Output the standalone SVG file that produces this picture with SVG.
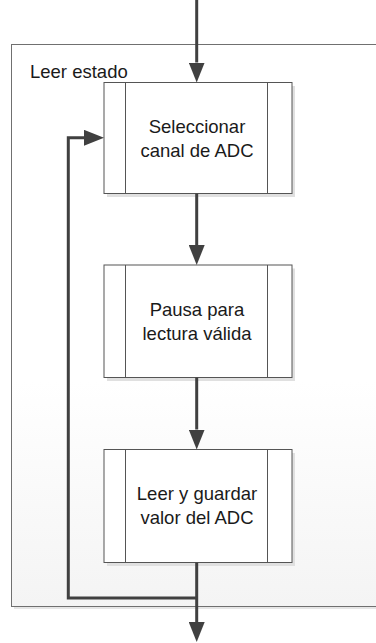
<svg xmlns="http://www.w3.org/2000/svg" width="376" height="643" viewBox="0 0 376 643">
<style>
.box{fill:#ffffff;stroke:#555555;stroke-width:1}
.shadow{fill:#e0e0e0}
.div{stroke:#555555;stroke-width:1}
.conn{fill:none;stroke:#404040;stroke-width:3}
.t{font-family:"Liberation Sans",Arial,sans-serif;font-size:18.5px;fill:#1a1a1a}
.c{text-anchor:middle}
</style>
<defs>
<linearGradient id="cg" x1="0" y1="0" x2="0" y2="1">
<stop offset="0" stop-color="#ffffff"/>
<stop offset="0.6" stop-color="#ffffff"/>
<stop offset="1" stop-color="#f4f4f4"/>
</linearGradient>
<marker id="ah" markerUnits="userSpaceOnUse" markerWidth="20" markerHeight="16" refX="0" refY="8" orient="auto">
<path d="M0,0 L20,8 L0,16 Z" fill="#404040"/>
</marker>
</defs>
<g id="container">
<rect x="14" y="47" width="380" height="562" fill="#e6e6e6"/>
<rect x="11.5" y="44.5" width="380" height="562" fill="url(#cg)" stroke="#707070" stroke-width="1"/>
<text class="t" x="30" y="78">Leer estado</text>
</g>
<g id="node1">
<rect x="107" y="86" width="188" height="111" class="shadow"/>
<rect x="104" y="82.5" width="188" height="111" class="box"/>
<line x1="125.5" y1="82.5" x2="125.5" y2="193.5" class="div"/>
<line x1="267.5" y1="82.5" x2="267.5" y2="193.5" class="div"/>
<text class="t c" x="197" y="132.5">Seleccionar</text>
<text class="t c" x="197" y="156.5">canal de ADC</text>
</g>
<g id="node2">
<rect x="107" y="268.5" width="188" height="112.5" class="shadow"/>
<rect x="104" y="265" width="188" height="112.5" class="box"/>
<line x1="125.5" y1="265" x2="125.5" y2="377.5" class="div"/>
<line x1="267.5" y1="265" x2="267.5" y2="377.5" class="div"/>
<text class="t c" x="197" y="315.5">Pausa para</text>
<text class="t c" x="197" y="339.5">lectura válida</text>
</g>
<g id="node3">
<rect x="107" y="453" width="188" height="113" class="shadow"/>
<rect x="104" y="449.5" width="188" height="113" class="box"/>
<line x1="125.5" y1="449.5" x2="125.5" y2="562.5" class="div"/>
<line x1="267.5" y1="449.5" x2="267.5" y2="562.5" class="div"/>
<text class="t c" x="197" y="500">Leer y guardar</text>
<text class="t c" x="197" y="524">valor del ADC</text>
</g>
<g id="connectors">
<path class="conn" d="M196.7,0 V62.5" marker-end="url(#ah)"/>
<path class="conn" d="M196.7,193.5 V245" marker-end="url(#ah)"/>
<path class="conn" d="M196.7,377.5 V429.5" marker-end="url(#ah)"/>
<path class="conn" d="M196.7,562.5 V622" marker-end="url(#ah)"/>
<path class="conn" d="M196.7,598 H68.3 V137.8 H84" marker-end="url(#ah)"/>
</g>
</svg>
